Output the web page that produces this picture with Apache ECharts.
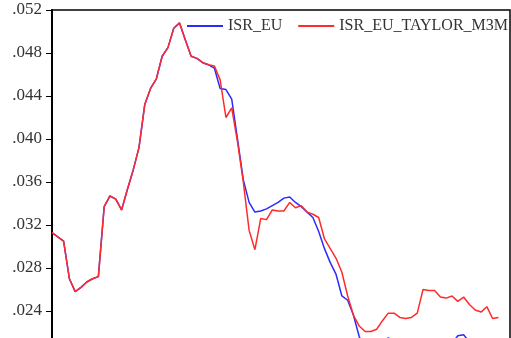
<!DOCTYPE html>
<html>
<head>
<meta charset="utf-8">
<script src="https://cdn.jsdelivr.net/npm/echarts@6/dist/echarts.min.js"></script>
<style>html,body{margin:0;padding:0;background:#fff;}#c{width:511px;height:338px;}</style>
</head>
<body>
<div id="c"></div>
<script>
// Periods (quarterly workfile range; last two periods have no observations)
const categories = [];
for (let y = 1999; y <= 2018; y++) for (let q = 1; q <= 4; q++) categories.push(y + 'Q' + q);

const seriesNames = ['ISR_EU', 'ISR_EU_TAYLOR_M3M'];

const isrEU = [
  .0313,.0309,.0305,.0270,.0258,.0262,.0267,.0270,.0272,.0337,
  .0347,.0344,.0334,.0353,.0371,.0392,.0432,.0447,.0456,.0477,
  .0485,.0503,.0508,.0492,.0477,.0475,.0471,.0469,.0466,.0447,
  .0446,.0437,.0400,.0362,.0341,.0332,.0333,.0335,.0338,.0341,
  .0345,.0346,.0341,.0337,.0332,.0327,.0314,.0298,.0285,.0274,
  .0254,.0250,.0236,.0216,.0205,.0200,.0202,.0209,.0215,.0212,
  .0207,.0204,.0203,.0205,.0208,.0206,.0207,.0205,.0206,.0210,
  .0217,.0218,.0211,.0206,.0204,.0206,.0203,.0202
];

const isrEUTaylor = [
  .0313,.0309,.0305,.0270,.0258,.0262,.0267,.0270,.0272,.0337,
  .0347,.0344,.0334,.0353,.0371,.0392,.0432,.0447,.0456,.0477,
  .0485,.0503,.0508,.0492,.0477,.0475,.0471,.0469,.0468,.0455,
  .0420,.0429,.0397,.0360,.0315,.0297,.0326,.0325,.0334,.0333,
  .0333,.0341,.0336,.0338,.0332,.0330,.0327,.0307,.0298,.0289,
  .0276,.0254,.0236,.0226,.0221,.0221,.0223,.0231,.0238,.0238,
  .0234,.0233,.0234,.0238,.0260,.0259,.0259,.0253,.0252,.0254,
  .0249,.0253,.0246,.0241,.0239,.0244,.0233,.0234
];

const yMin = 0.016, yMax = 0.052, yStep = 0.004;

const chart = echarts.init(document.getElementById('c'), null, {renderer: 'canvas'});
const serif = 'Liberation Serif';
chart.setOption({
  animation: false,
  backgroundColor: '#ffffff',
  grid: {
    left: 52, top: 10, right: 1, height: 387,
    outerBoundsMode: 'none',
    containLabel: false,
    show: true, borderColor: '#000', borderWidth: 1.5, backgroundColor: 'transparent'
  },
  legend: {
    left: 187, top: 18, width: 500,
    padding: 0,
    itemWidth: 36, itemHeight: 2, itemGap: 16,
    icon: 'rect',
    data: seriesNames,
    textStyle: {fontFamily: serif, fontSize: 16, color: '#333'}
  },
  xAxis: {
    type: 'category',
    data: categories,
    boundaryGap: false,
    axisLine: {show: false},
    axisTick: {show: false},
    axisLabel: {show: false},
    splitLine: {show: false}
  },
  yAxis: {
    type: 'value',
    min: yMin, max: yMax, interval: yStep,
    axisLine: {show: true, lineStyle: {color: '#000', width: 2}},
    axisTick: {show: true, length: 6, lineStyle: {color: '#000', width: 1}},
    axisLabel: {
      margin: 10,
      fontFamily: serif, fontSize: 17, color: '#333',
      formatter: v => v.toFixed(3).replace(/^0/, '')
    },
    splitLine: {show: false}
  },
  series: [
    {
      name: seriesNames[0], type: 'line', data: isrEU,
      symbol: 'none', itemStyle: {color: '#2b2bff'},
      lineStyle: {color: '#2b2bff', width: 1.5}
    },
    {
      name: seriesNames[1], type: 'line', data: isrEUTaylor,
      symbol: 'none', itemStyle: {color: '#ff2b2b'},
      lineStyle: {color: '#ff2b2b', width: 1.5}
    }
  ]
});
</script>
</body>
</html>
